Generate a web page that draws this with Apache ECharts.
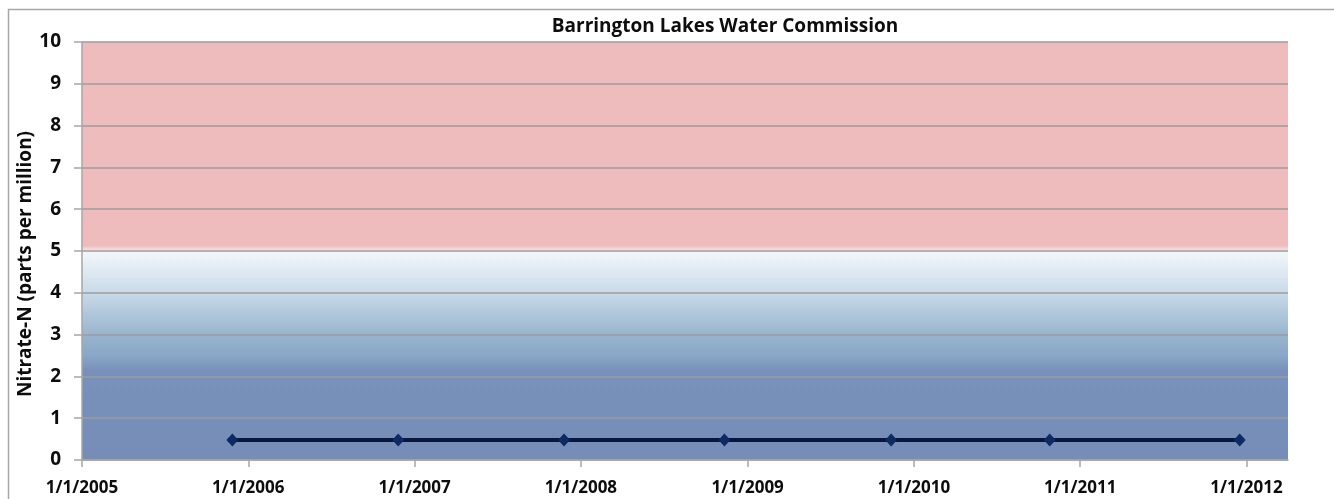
<!DOCTYPE html>
<html>
<head>
<meta charset="utf-8">
<style>
  html, body { margin: 0; padding: 0; background: #fff; }
  #chart { width: 1334px; height: 499px; }
</style>
<script src="https://cdn.jsdelivr.net/npm/echarts@6/dist/echarts.min.js"></script>
</head>
<body>
<div id="chart"></div>
<script>
// sample dates and nitrate readings (ppm)
const sampleDates = ['2005-11-27', '2006-11-26', '2007-11-25', '2008-11-11', '2009-11-12', '2010-10-26', '2011-12-17']
const nitrate = [0.48, 0.48, 0.48, 0.48, 0.48, 0.48, 0.48]
const yTicks = [0, 1, 2, 3, 4, 5, 6, 7, 8, 9, 10]
const xMin = '2005-01-01'
const xMax = '2012-04-01'

const FONT = '"Open Sans", Lato, sans-serif'
const DAY = 24 * 3600 * 1000

function toTs(s) {
  const [y, m, d] = s.split('-').map(Number)
  return Date.UTC(y, m - 1, d)
}

const points = sampleDates.map((d, i) => [toTs(d), nitrate[i]])

const chart = echarts.init(document.getElementById('chart'))

chart.setOption({
  animation: false,
  useUTC: true,
  backgroundColor: '#fff',
  grid: { left: 82, right: 46, top: 42, bottom: 39 },
  graphic: [
    // outer chart border
    { type: 'rect', shape: { x: 8.5, y: 9.5, width: 1400, height: 600 },
      style: { fill: 'none', stroke: '#A6A6A6', lineWidth: 1.5 }, silent: true, z: -1 },
    { type: 'text', x: 725, y: 27,
      style: { text: 'Barrington Lakes Water Commission', font: 'bold 19px ' + FONT,
        fill: '#0D0D0D', textAlign: 'center', textVerticalAlign: 'middle' } },
    { type: 'text', x: 26, y: 264, rotation: Math.PI / 2,
      style: { text: 'Nitrate-N (parts per million)', font: 'bold 19px ' + FONT,
        fill: '#0D0D0D', textAlign: 'center', textVerticalAlign: 'middle' } }
  ],
  xAxis: {
    type: 'time',
    min: toTs(xMin),
    max: toTs(xMax),
    splitNumber: 7,
    minInterval: 365 * DAY,
    maxInterval: 366 * DAY,
    axisLine: { lineStyle: { color: '#A6A6A6', width: 1.5 } },
    axisTick: { show: true, length: 7, lineStyle: { color: '#A6A6A6', width: 1.5 } },
    splitLine: { show: false },
    axisLabel: {
      margin: 20, color: '#0D0D0D', fontFamily: FONT, fontWeight: 'bold', fontSize: 17,
      formatter: v => {
        const d = new Date(v)
        return (d.getUTCMonth() + 1) + '/' + d.getUTCDate() + '/' + d.getUTCFullYear()
      },
      rich: {}
    }
  },
  yAxis: {
    type: 'value',
    min: yTicks[0],
    max: yTicks[yTicks.length - 1],
    interval: 1,
    axisLine: { show: true, lineStyle: { color: '#A6A6A6', width: 1.5 } },
    axisTick: { show: true, length: 8, lineStyle: { color: '#A6A6A6', width: 1.5 } },
    splitLine: { lineStyle: { color: '#9C9C9C', width: 1.5 } },
    axisLabel: { margin: 21, color: '#0D0D0D', fontFamily: FONT, fontWeight: 'bold', fontSize: 19 }
  },
  series: [{
    type: 'line',
    data: points,
    symbol: 'diamond',
    symbolSize: [12, 13],
    itemStyle: { color: '#0E2A63' },
    lineStyle: { color: '#07173D', width: 4 },
    z: 5,
    markArea: {
      silent: true,
      z: -1,
      data: [
        [{ yAxis: 5, itemStyle: {
            color: new echarts.graphic.LinearGradient(0, 0, 0, 1, [
              { offset: 0, color: '#EEBCBD' },
              { offset: 0.975, color: '#EEBCBD' },
              { offset: 1, color: '#F7ECEC' }
            ]) } }, { yAxis: 10 }],
        [{ yAxis: 0, itemStyle: {
            color: new echarts.graphic.LinearGradient(0, 0, 0, 1, [
              { offset: 0, color: '#F3F7FB' },
              { offset: 0.2, color: '#C9DAE8' },
              { offset: 0.4, color: '#98B5CE' },
              { offset: 0.5, color: '#89A7C6' },
              { offset: 0.57, color: '#7891BA' },
              { offset: 1, color: '#758DB7' }
            ]) } }, { yAxis: 5 }]
      ]
    }
  }]
})
</script>
</body>
</html>
